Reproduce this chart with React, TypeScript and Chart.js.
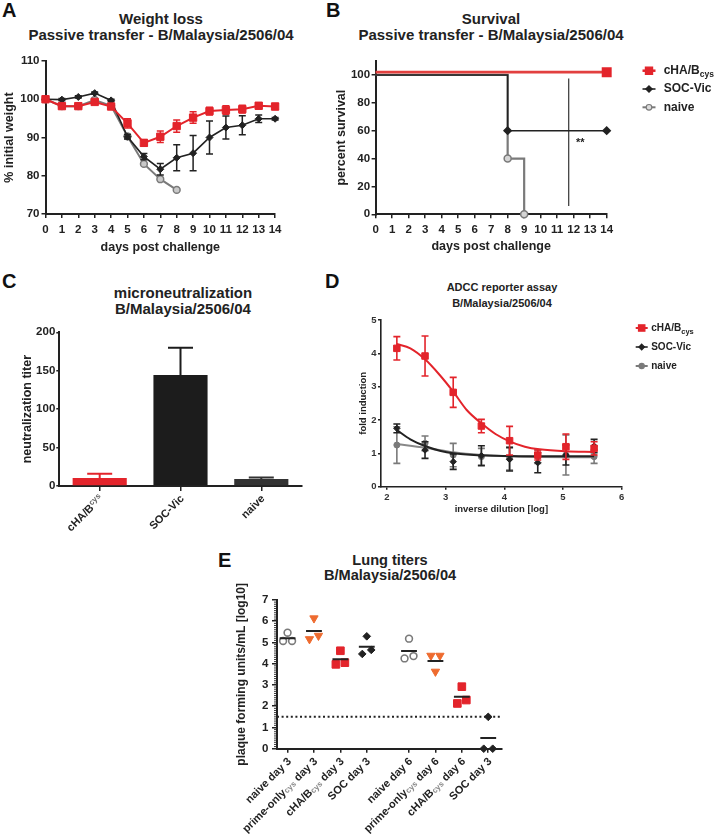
import React, { useEffect, useRef } from 'react';
import { Chart, registerables } from 'chart.js';

Chart.register(...registerables);

const FONT = '"Liberation Sans", Arial, Helvetica, sans-serif';
Chart.defaults.font.family = FONT;
Chart.defaults.color = '#222222';

// ---------------- data ----------------
const SERIES = ['cHA/B_{cys}', 'SOC-Vic', 'naive'];

// A: weight loss
const DAYS = [0, 1, 2, 3, 4, 5, 6, 7, 8, 9, 10, 11, 12, 13, 14];
const WEIGHT_CHA = [100, 98.2, 98.2, 99.3, 98.1, 93.7, 88.6, 90.2, 93.0, 95.2, 96.9, 97.2, 97.4, 98.3, 98.1];
const WEIGHT_CHA_SEM = [0.3, 0.5, 0.5, 0.5, 0.6, 1.2, 0.8, 1.5, 1.6, 1.5, 1.0, 1.1, 1.0, 0.8, 0.8];
const WEIGHT_SOC = [100, 99.9, 100.6, 101.6, 99.7, 90.2, 85.0, 81.7, 84.7, 85.9, 90.0, 92.6, 93.2, 94.9, 94.9];
const WEIGHT_SOC_SEM = [0.2, 0.3, 0.3, 0.3, 0.3, 0.6, 0.8, 1.5, 3.4, 4.6, 4.3, 3.0, 2.5, 1.0, 0.3];
const WEIGHT_NAIVE = [100, 98.2, 98.2, 99.8, 98.3, 90.3, 83.1, 79.1, 76.3];
const WEIGHT_NAIVE_SEM = [0.2, 0.4, 0.4, 0.6, 0.6, 0.6, 0.6, 0.5, 0.3];

// B: survival (Kaplan-Meier steps)
const SURV_CHA_DAYS = [0, 14];
const SURV_CHA = [100, 100];
const SURV_SOC_DAYS = [0, 8, 14];
const SURV_SOC = [100, 60, 60];
const SURV_NAIVE_DAYS = [0, 8, 9];
const SURV_NAIVE = [100, 40, 0];
const SIG_LINE_X = 11.7;
const SIG_LINE_Y = [6, 97.5];
const SIG_TEXT = '**';

// C: microneutralization
const MN_GROUPS = ['cHA/B_{cys}', 'SOC-Vic', 'naive'];
const MN_TITER = [10.5, 144.5, 9];
const MN_SEM = [5.5, 35.5, 2];

// D: ADCC reporter assay
const ADCC_X = [2.17, 2.65, 3.13, 3.61, 4.09, 4.57, 5.05, 5.53];
const ADCC_CHA = [4.15, 3.92, 2.83, 1.82, 1.38, 0.95, 1.2, 1.15];
const ADCC_CHA_SD = [0.35, 0.6, 0.45, 0.2, 0.43, 0.15, 0.38, 0.2];
const ADCC_SOC = [1.75, 1.1, 0.75, 0.93, 0.82, 0.72, 0.95, 1.22];
const ADCC_SOC_SD = [0.13, 0.25, 0.23, 0.3, 0.35, 0.3, 0.3, 0.2];
const ADCC_NAIVE = [1.25, 1.3, 0.95, 0.9, 0.85, 0.9, 0.95, 0.9];
const ADCC_NAIVE_SD = [0.55, 0.22, 0.35, 0.25, 0.35, 0.2, 0.6, 0.2];
const FIT_CHA_X = [2.17, 2.4, 2.65, 2.9, 3.13, 3.36, 3.61, 3.85, 4.09, 4.35, 4.6, 5.05, 5.53];
const FIT_CHA_Y = [4.28, 4.15, 3.82, 3.35, 2.85, 2.3, 1.9, 1.58, 1.36, 1.2, 1.12, 1.06, 1.04];
const FIT_SOC_X = [2.17, 2.4, 2.65, 2.9, 3.13, 3.61, 4.09, 4.57, 5.53];
const FIT_SOC_Y = [1.7, 1.42, 1.22, 1.08, 1.0, 0.94, 0.92, 0.91, 0.91];
const FIT_NAIVE_X = [2.17, 2.65, 3.13, 3.61, 4.09, 4.57, 5.53];
const FIT_NAIVE_Y = [1.28, 1.17, 1.03, 0.95, 0.91, 0.89, 0.88];

// E: lung titers
const LUNG_GROUPS = [
  'naive day 3', 'prime-only_{cys} day 3', 'cHA/B_{cys} day 3', 'SOC day 3',
  'naive day 6', 'prime-only_{cys} day 6', 'cHA/B_{cys} day 6', 'SOC day 3',
];
const LUNG_NAIVE_D3 = [5.46, 5.07, 5.07];
const LUNG_PRIME_D3 = [6.14, 5.16, 5.32];
const LUNG_CHA_D3 = [4.61, 3.97, 4.05];
const LUNG_SOC_D3 = [5.29, 4.46, 4.65];
const LUNG_NAIVE_D6 = [5.18, 4.25, 4.36];
const LUNG_PRIME_D6 = [3.63, 4.38, 4.38];
const LUNG_CHA_D6 = [2.92, 2.13, 2.29];
const LUNG_SOC_D3B = [1.5, 0, 0];
const LUNG_VALUES = [LUNG_NAIVE_D3, LUNG_PRIME_D3, LUNG_CHA_D3, LUNG_SOC_D3, LUNG_NAIVE_D6, LUNG_PRIME_D6, LUNG_CHA_D6, LUNG_SOC_D3B];
const LUNG_LOD = 1.5;

// ---------------- styling ----------------
const RED = '#e3242b';
const ORANGE = '#ee6b2f';
const INK = '#222222';
const GREY = '#7a7a7a';

type Seg = { text: string; sub: boolean };
function parseRich(s: string): Seg[] {
  const out: Seg[] = [];
  const re = /_\{([^}]*)\}/g;
  let last = 0;
  let m: RegExpExecArray | null;
  while ((m = re.exec(s))) {
    if (m.index > last) out.push({ text: s.slice(last, m.index), sub: false });
    out.push({ text: m[1], sub: true });
    last = m.index + m[0].length;
  }
  if (last < s.length) out.push({ text: s.slice(last), sub: false });
  return out;
}

interface RichStyle {
  size: number; weight: string; color: string;
  subSize: number; subColor: string; subDy: number; align: 'left' | 'right';
}
function drawRich(ctx: CanvasRenderingContext2D, s: string, x: number, y: number, st: RichStyle) {
  const segs = parseRich(s);
  const fontOf = (sub: boolean) => `${st.weight} ${sub ? st.subSize : st.size}px ${FONT}`;
  let total = 0;
  const widths = segs.map((sg) => {
    ctx.font = fontOf(sg.sub);
    const w = ctx.measureText(sg.text).width;
    total += w;
    return w;
  });
  let cx = st.align === 'right' ? x - total : x;
  ctx.textAlign = 'left';
  ctx.textBaseline = 'middle';
  segs.forEach((sg, i) => {
    ctx.font = fontOf(sg.sub);
    ctx.fillStyle = sg.sub ? st.subColor : st.color;
    ctx.fillText(sg.text, cx, y + (sg.sub ? st.subDy : 0));
    cx += widths[i];
  });
}

function drawMarker(ctx: CanvasRenderingContext2D, kind: string, x: number, y: number, r: number, fill: string, stroke: string) {
  ctx.beginPath();
  if (kind === 'square') ctx.rect(x - r, y - r, 2 * r, 2 * r);
  else if (kind === 'diamond') {
    ctx.moveTo(x, y - r); ctx.lineTo(x + r, y); ctx.lineTo(x, y + r); ctx.lineTo(x - r, y); ctx.closePath();
  } else ctx.arc(x, y, r, 0, Math.PI * 2);
  ctx.fillStyle = fill;
  ctx.fill();
  ctx.lineWidth = 1.2;
  ctx.strokeStyle = stroke;
  ctx.stroke();
}

// error bars drawn from dataset.errors through the y scale
const errorBarsPlugin = {
  id: 'errorBars',
  beforeDatasetDraw(chart: any, args: any) {
    const ds = chart.data.datasets[args.index];
    if (!ds || !ds.errors) return;
    const meta = args.meta;
    const ys = chart.scales[meta.yAxisID];
    const ctx = chart.ctx as CanvasRenderingContext2D;
    ctx.save();
    ctx.lineWidth = ds.errorWidth ?? 1.5;
    const cap = ds.errorCap ?? 3.5;
    meta.data.forEach((el: any, i: number) => {
      const e = ds.errors[i];
      if (e == null) return;
      const raw = ds.data[i];
      const v = typeof raw === 'number' ? raw : raw.y;
      const col = Array.isArray(ds.errorColor) ? ds.errorColor[i] : (ds.errorColor || ds.borderColor);
      ctx.strokeStyle = col;
      const x = el.x;
      const yt = ys.getPixelForValue(v + e);
      const yb = ys.getPixelForValue(ds.upperOnly ? v : v - e);
      ctx.beginPath();
      ctx.moveTo(x, yt); ctx.lineTo(x, yb);
      ctx.moveTo(x - cap, yt); ctx.lineTo(x + cap, yt);
      if (!ds.upperOnly) { ctx.moveTo(x - cap, yb); ctx.lineTo(x + cap, yb); }
      ctx.stroke();
    });
    ctx.restore();
  },
};
Chart.register(errorBarsPlugin as any);

function scale(o: any) {
  const { fit, horizontal, tickLen, pad, size, weight = 'bold', title, titleSize, step,
    borderWidth = 2, showLabels = true, tickColor = INK, ...rest } = o;
  return {
    ...rest,
    ticks: {
      autoSkip: false, maxRotation: 0, minRotation: 0, padding: pad, color: tickColor,
      font: { size, weight }, display: showLabels, includeBounds: false,
      ...(step ? { stepSize: step } : {}),
    },
    grid: { display: true, drawOnChartArea: false, drawTicks: true, tickLength: tickLen, color: INK, lineWidth: 1.5, offset: false },
    border: { display: true, color: INK, width: borderWidth },
    title: title
      ? { display: true, text: title, color: INK, font: { size: titleSize, weight: 'bold' }, padding: 0 }
      : { display: false },
    afterFit: (s: any) => { if (horizontal) s.height = fit; else s.width = fit; },
  };
}

function baseOptions(padTop: number, padRight: number) {
  return {
    responsive: false,
    animation: false,
    events: [],
    layout: { padding: { top: padTop, right: padRight, left: 0, bottom: 0 } },
    plugins: { legend: { display: false }, tooltip: { enabled: false } },
  };
}

function richXLabels(labels: string[], st: RichStyle, dx: number, dy: number) {
  return {
    id: 'richX',
    afterDraw(chart: any) {
      const sc = chart.scales.x;
      const ctx = chart.ctx as CanvasRenderingContext2D;
      sc.ticks.forEach((_t: any, i: number) => {
        const x = sc.getPixelForTick(i);
        ctx.save();
        ctx.translate(x + dx, sc.top + dy);
        ctx.rotate(-Math.PI / 4);
        drawRich(ctx, labels[i], 0, 0, st);
        ctx.restore();
      });
    },
  };
}

interface LegendItem { label: string; color: string; marker: string; r: number; fill: string; lw: number }
function richLegend(items: LegendItem[], lay: { iconX: number; half: number; textX: number; top: number; gap: number; style: RichStyle }) {
  return {
    id: 'richLegend',
    afterDraw(chart: any) {
      const { chartArea } = chart;
      const ctx = chart.ctx as CanvasRenderingContext2D;
      items.forEach((it, i) => {
        const y = chartArea.top + lay.top + i * lay.gap;
        const cx = chartArea.right + lay.iconX;
        ctx.save();
        ctx.strokeStyle = it.color;
        ctx.lineWidth = it.lw;
        ctx.beginPath(); ctx.moveTo(cx - lay.half, y); ctx.lineTo(cx + lay.half, y); ctx.stroke();
        drawMarker(ctx, it.marker, cx, y, it.r, it.fill, it.color);
        drawRich(ctx, it.label, chartArea.right + lay.textX, y, lay.style);
        ctx.restore();
      });
    },
  };
}

const xy = (xs: number[], ys: number[]) => ys.map((y, i) => ({ x: xs[i], y }));

// ---------------- chart configs ----------------
const BOX_A = { L: 2, T: 50, W: 284, H: 205 };
const BOX_B = { L: 334, T: 50, W: 386, H: 204 };
const BOX_C = { L: 20, T: 320, W: 292, H: 226 };
const BOX_D = { L: 358, T: 310, W: 362, H: 205 };
const BOX_E = { L: 234, T: 575, W: 278, H: 262 };

function configA() {
  return {
    type: 'line',
    data: {
      datasets: [
        { label: SERIES[0], data: xy(DAYS, WEIGHT_CHA), errors: WEIGHT_CHA_SEM, borderColor: RED, backgroundColor: RED, borderWidth: 2,
          pointStyle: 'rect', pointRadius: 5.2, pointBackgroundColor: RED, pointBorderColor: RED, pointBorderWidth: 1, errorCap: 3.5, clip: false },
        { label: SERIES[1], data: xy(DAYS, WEIGHT_SOC), errors: WEIGHT_SOC_SEM, borderColor: INK, backgroundColor: INK, borderWidth: 1.6,
          pointStyle: 'rectRot', pointRadius: 3.5, pointBackgroundColor: INK, pointBorderColor: INK, pointBorderWidth: 1, errorCap: 3.5, clip: false },
        { label: SERIES[2], data: xy(DAYS, WEIGHT_NAIVE), errors: WEIGHT_NAIVE_SEM, borderColor: GREY, backgroundColor: GREY, borderWidth: 2,
          pointStyle: 'circle', pointRadius: 3.4, pointBackgroundColor: '#c9c9c9', pointBorderColor: GREY, pointBorderWidth: 1.5, errorCap: 3, clip: false },
      ],
    },
    options: {
      ...baseOptions(11, 10),
      scales: {
        x: scale({ type: 'linear', min: 0, max: 14, step: 1, horizontal: true, fit: 41, tickLen: 4, pad: 4.5, size: 11.5, title: 'days post challenge', titleSize: 12.5 }),
        y: scale({ type: 'linear', min: 70, max: 110, step: 10, horizontal: false, fit: 43.5, tickLen: 4, pad: 2, size: 11.5, title: '% initial weight', titleSize: 12.5 }),
      },
    },
  };
}

const LEGEND_AB: LegendItem[] = [
  { label: SERIES[0], color: RED, marker: 'square', r: 3.6, fill: RED, lw: 2.5 },
  { label: SERIES[1], color: INK, marker: 'diamond', r: 3.2, fill: INK, lw: 1.6 },
  { label: SERIES[2], color: GREY, marker: 'circle', r: 2.8, fill: '#dddddd', lw: 2 },
];

function configB() {
  const SURV_NUDGE = 2; // the source lifts the overlapping 100 % line slightly
  const sigPlugin = {
    id: 'sig',
    afterDatasetsDraw(chart: any) {
      const ctx = chart.ctx as CanvasRenderingContext2D;
      const x = chart.scales.x.getPixelForValue(12.4);
      const y = chart.scales.y.getPixelForValue(51);
      ctx.save();
      ctx.font = `bold 11px ${FONT}`;
      ctx.fillStyle = INK;
      ctx.textAlign = 'center';
      ctx.textBaseline = 'middle';
      ctx.fillText(SIG_TEXT, x, y);
      ctx.restore();
    },
  };
  return {
    type: 'line',
    data: {
      datasets: [
        { label: SERIES[0], data: xy(SURV_CHA_DAYS, SURV_CHA.map((v) => v + SURV_NUDGE)), borderColor: '#e2403f', borderWidth: 2.6, stepped: true,
          pointStyle: 'rect', pointRadius: [0, 5.2], pointBackgroundColor: RED, pointBorderColor: RED, clip: false },
        { label: SERIES[1], data: xy(SURV_SOC_DAYS, SURV_SOC), borderColor: INK, borderWidth: 1.6, stepped: true,
          pointStyle: 'rectRot', pointRadius: [0, 3.5, 3.5], pointBackgroundColor: INK, pointBorderColor: INK, clip: false },
        { label: SERIES[2], data: xy(SURV_NAIVE_DAYS, SURV_NAIVE), borderColor: GREY, borderWidth: 2.2, stepped: true,
          pointStyle: 'circle', pointRadius: [0, 3.5, 3.5], pointBackgroundColor: '#d5d5d5', pointBorderColor: GREY, pointBorderWidth: 1.5, clip: false },
        { label: 'sig', data: [{ x: SIG_LINE_X, y: SIG_LINE_Y[0] }, { x: SIG_LINE_X, y: SIG_LINE_Y[1] }], borderColor: INK, borderWidth: 1.1, pointRadius: 0 },
      ],
    },
    options: {
      ...baseOptions(11, 113.3),
      scales: {
        x: scale({ type: 'linear', min: 0, max: 14, step: 1, horizontal: true, fit: 39.7, tickLen: 4, pad: 4.5, size: 11.5, title: 'days post challenge', titleSize: 12.5 }),
        y: scale({ type: 'linear', min: 0, max: 110, step: 20, horizontal: false, fit: 41.6, tickLen: 4, pad: 1.5, size: 11.5, title: 'percent survival', titleSize: 12.5 }),
      },
    },
    plugins: [
      sigPlugin,
      richLegend(LEGEND_AB, {
        iconX: 42.3, half: 6.5, textX: 57, top: 9.7, gap: 18.3,
        style: { size: 12, weight: 'bold', color: INK, subSize: 8.5, subColor: INK, subDy: 4, align: 'left' },
      }),
    ],
  };
}

function configC() {
  return {
    type: 'bar',
    data: {
      labels: MN_GROUPS,
      datasets: [
        { data: MN_TITER, errors: MN_SEM, upperOnly: true, errorColor: [RED, '#1c1c1c', '#333333'], errorCap: 12.5, errorWidth: 2,
          backgroundColor: [RED, '#1c1c1c', '#333333'], borderWidth: 0, barPercentage: 0.67, categoryPercentage: 1 },
      ],
    },
    options: {
      ...baseOptions(12.3, 10.3),
      scales: {
        x: scale({ type: 'category', horizontal: true, fit: 60, tickLen: 5, pad: 0, size: 11, showLabels: false }),
        y: scale({ type: 'linear', min: 0, max: 200, step: 50, horizontal: false, fit: 39.3, tickLen: 3, pad: 1, size: 11.5, title: 'neutralization titer', titleSize: 12.5 }),
      },
    },
    plugins: [
      richXLabels(MN_GROUPS, { size: 11, weight: 'bold', color: INK, subSize: 8, subColor: '#666666', subDy: -3, align: 'right' }, 2, 11),
    ],
  };
}

const LEGEND_D: LegendItem[] = [
  { label: SERIES[0], color: RED, marker: 'square', r: 3.2, fill: RED, lw: 2 },
  { label: SERIES[1], color: INK, marker: 'diamond', r: 2.8, fill: INK, lw: 1.6 },
  { label: SERIES[2], color: GREY, marker: 'circle', r: 2.6, fill: GREY, lw: 2 },
];

function configD() {
  const pts = (label: string, ys: number[], err: number[], color: string, style: string, r: number) => ({
    label, data: xy(ADCC_X, ys), errors: err, showLine: false, borderColor: color, backgroundColor: color,
    pointStyle: style, pointRadius: r, pointBackgroundColor: color, pointBorderColor: color, errorCap: 3.5, errorWidth: 1.6, clip: false,
  });
  const fit = (xs: number[], ys: number[], color: string) => ({
    data: xy(xs, ys), borderColor: color, borderWidth: 2, pointRadius: 0, cubicInterpolationMode: 'monotone',
  });
  return {
    type: 'line',
    data: {
      datasets: [
        pts(SERIES[0], ADCC_CHA, ADCC_CHA_SD, RED, 'rect', 4.6),
        fit(FIT_CHA_X, FIT_CHA_Y, RED),
        pts(SERIES[1], ADCC_SOC, ADCC_SOC_SD, INK, 'rectRot', 3.2),
        fit(FIT_SOC_X, FIT_SOC_Y, INK),
        pts(SERIES[2], ADCC_NAIVE, ADCC_NAIVE_SD, GREY, 'circle', 3),
        fit(FIT_NAIVE_X, FIT_NAIVE_Y, '#888888'),
      ],
    },
    options: {
      ...baseOptions(10, 98.3),
      scales: {
        x: scale({ type: 'linear', min: 1.9, max: 6, step: 1, horizontal: true, fit: 28.3, tickLen: 3, pad: 1.5, size: 9.5, tickColor: '#333333', borderWidth: 1.6, title: 'inverse dilution [log]', titleSize: 9.5 }),
        y: scale({ type: 'linear', min: 0, max: 5, step: 1, horizontal: false, fit: 23, tickLen: 3, pad: 1.5, size: 9.5, tickColor: '#333333', borderWidth: 1.6, title: 'fold induction', titleSize: 9.5 }),
      },
    },
    plugins: [
      richLegend(LEGEND_D, {
        iconX: 20, half: 6, textX: 29.5, top: 8, gap: 19,
        style: { size: 10, weight: 'bold', color: INK, subSize: 7.5, subColor: INK, subDy: 3.5, align: 'left' },
      }),
    ],
  };
}

function configE() {
  const GAP_AFTER = 4;
  const GAP = 0.6;
  const pos = (i: number) => i + 1 + (i >= GAP_AFTER ? GAP : 0);
  const JITTER = [0, -0.17, 0.17];
  const HALF_MEAN = 0.3;
  const STYLES = [
    { pointStyle: 'circle', pointRadius: 3.4, pointBackgroundColor: '#ffffff', pointBorderColor: GREY, pointBorderWidth: 1.6, pointRotation: 0 },
    { pointStyle: 'triangle', pointRadius: 4.8, pointBackgroundColor: ORANGE, pointBorderColor: ORANGE, pointBorderWidth: 1, pointRotation: 180 },
    { pointStyle: 'rect', pointRadius: 5.4, pointBackgroundColor: RED, pointBorderColor: RED, pointBorderWidth: 1, pointRotation: 0 },
    { pointStyle: 'rectRot', pointRadius: 3.8, pointBackgroundColor: INK, pointBorderColor: INK, pointBorderWidth: 1, pointRotation: 0 },
  ];
  const groupSets = LUNG_VALUES.map((vals, i) => ({
    data: vals.map((v, j) => ({ x: pos(i) + JITTER[j], y: v })),
    ...STYLES[i % 4],
    clip: false,
  }));
  const meanPts: { x: number; y: number | null }[] = [];
  LUNG_VALUES.forEach((vals, i) => {
    const m = vals.reduce((a, b) => a + b, 0) / vals.length;
    meanPts.push({ x: pos(i) - HALF_MEAN, y: m }, { x: pos(i) + HALF_MEAN, y: m }, { x: pos(i) + HALF_MEAN, y: null });
  });
  const X_MIN = 0.6;
  const X_MAX = 9.11;
  const minorTicks = {
    id: 'minorTicks',
    afterDraw(chart: any) {
      const ys = chart.scales.y;
      const ctx = chart.ctx as CanvasRenderingContext2D;
      ctx.save();
      ctx.strokeStyle = INK;
      ctx.lineWidth = 0.9;
      ctx.beginPath();
      for (let k = 0; k <= 70; k++) {
        if (k % 10 === 0) continue;
        const y = ys.getPixelForValue(k / 10);
        ctx.moveTo(ys.right - 3, y);
        ctx.lineTo(ys.right, y);
      }
      ctx.stroke();
      ctx.restore();
    },
  };
  return {
    type: 'scatter',
    data: {
      datasets: [
        { data: meanPts, showLine: true, spanGaps: false, borderColor: INK, borderWidth: 2, pointRadius: 0 },
        ...groupSets,
        { data: [{ x: X_MIN, y: LUNG_LOD }, { x: X_MAX, y: LUNG_LOD }], showLine: true, borderColor: INK, borderWidth: 2, borderDash: [2, 2.6], pointRadius: 0 },
      ],
    },
    options: {
      ...baseOptions(25, 10.3),
      scales: {
        x: scale({
          type: 'linear', min: X_MIN, max: X_MAX, horizontal: true, fit: 88.3, tickLen: 4, pad: 0, size: 11, showLabels: false,
          afterBuildTicks: (s: any) => { s.ticks = LUNG_GROUPS.map((_g, i) => ({ value: pos(i) })); },
        }),
        y: scale({ type: 'linear', min: 0, max: 7, step: 1, horizontal: false, fit: 43, tickLen: 5, pad: 3.5, size: 11.5, title: 'plaque forming units/mL [log10]', titleSize: 12 }),
      },
    },
    plugins: [
      minorTicks,
      richXLabels(LUNG_GROUPS, { size: 11, weight: 'bold', color: INK, subSize: 8, subColor: '#888888', subDy: 1.5, align: 'right' }, 2, 11),
    ],
  };
}

// ---------------- components ----------------
type Box = { L: number; T: number; W: number; H: number };
function ChartCanvas({ box, make }: { box: Box; make: () => any }) {
  const ref = useRef<HTMLCanvasElement | null>(null);
  useEffect(() => {
    const chart = new Chart(ref.current as HTMLCanvasElement, make());
    return () => chart.destroy();
  }, []);
  return <canvas ref={ref} width={box.W} height={box.H} style={{ position: 'absolute', left: box.L, top: box.T }} />;
}

function Title({ x, y, lines, size, gap }: { x: number; y: number; lines: string[]; size: number; gap: number }) {
  return (
    <div style={{ position: 'absolute', left: x - 170, width: 340, top: y - gap / 2, textAlign: 'center', fontSize: size, lineHeight: `${gap}px`, fontWeight: 'bold', color: INK, whiteSpace: 'nowrap' }}>
      {lines.map((l, i) => <div key={i}>{l}</div>)}
    </div>
  );
}

function Letter({ x, capTop, text }: { x: number; capTop: number; text: string }) {
  return (
    <div style={{ position: 'absolute', left: x, top: capTop - 2.6, fontSize: 20, lineHeight: '20px', fontWeight: 'bold', color: '#111' }}>{text}</div>
  );
}

export default function App() {
  return (
    <div style={{ position: 'absolute', left: 0, top: 0, width: 720, height: 837, background: '#ffffff', fontFamily: FONT, overflow: 'hidden' }}>
      <Letter x={2} capTop={3} text="A" />
      <Letter x={326} capTop={3} text="B" />
      <Letter x={2} capTop={274} text="C" />
      <Letter x={325} capTop={274} text="D" />
      <Letter x={218} capTop={553} text="E" />
      <Title x={161} y={19} lines={['Weight loss', 'Passive transfer - B/Malaysia/2506/04']} size={15} gap={16} />
      <Title x={491} y={19} lines={['Survival', 'Passive transfer - B/Malaysia/2506/04']} size={15} gap={16} />
      <Title x={183} y={293} lines={['microneutralization', 'B/Malaysia/2506/04']} size={15} gap={16} />
      <Title x={502} y={287} lines={['ADCC reporter assay', 'B/Malaysia/2506/04']} size={11} gap={16} />
      <Title x={390} y={560} lines={['Lung titers', 'B/Malaysia/2506/04']} size={14.6} gap={15} />
      <ChartCanvas box={BOX_A} make={configA} />
      <ChartCanvas box={BOX_B} make={configB} />
      <ChartCanvas box={BOX_C} make={configC} />
      <ChartCanvas box={BOX_D} make={configD} />
      <ChartCanvas box={BOX_E} make={configE} />
    </div>
  );
}
